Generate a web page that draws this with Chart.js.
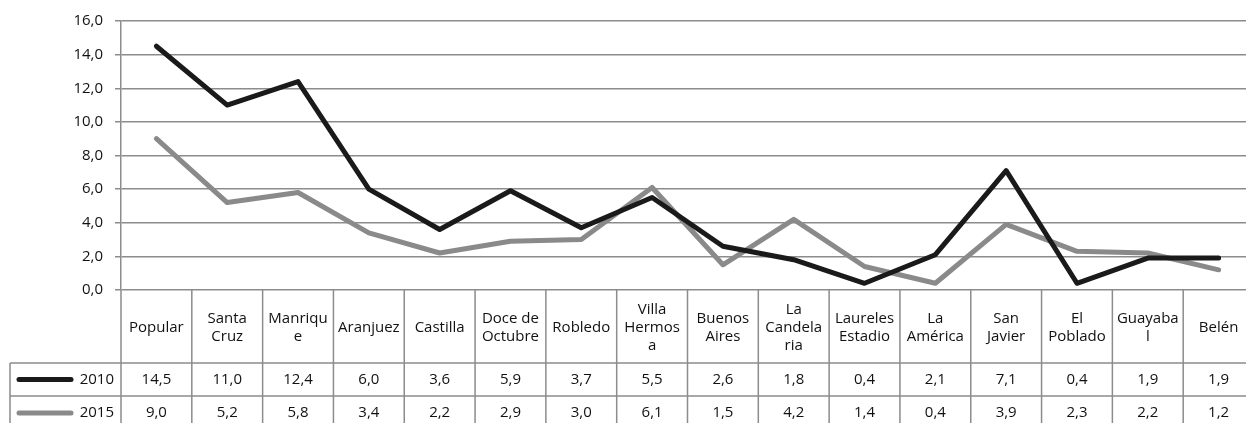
<!DOCTYPE html>
<html>
<head>
<meta charset="utf-8">
<script src="https://cdn.jsdelivr.net/npm/chart.js@4.4.1/dist/chart.umd.min.js"></script>
<style>
  html, body { margin: 0; padding: 0; background: #fff; }
  #wrap { width: 1246px; height: 423px; overflow: hidden; position: relative; }
  canvas { display: block; }
</style>
</head>
<body>
<div id="wrap"><canvas id="chart" width="1262" height="423"></canvas></div>
<script>
// Comunas (categories) and the wrapped header text as shown in the table
const comunas = ["Popular", "Santa Cruz", "Manrique", "Aranjuez", "Castilla", "Doce de Octubre",
    "Robledo", "Villa Hermosa", "Buenos Aires", "La Candelaria", "Laureles Estadio",
    "La América", "San Javier", "El Poblado", "Guayabal", "Belén"];
const headerLines = [["Popular"], ["Santa", "Cruz"], ["Manriqu", "e"], ["Aranjuez"], ["Castilla"],
    ["Doce de", "Octubre"], ["Robledo"], ["Villa", "Hermos", "a"], ["Buenos", "Aires"],
    ["La", "Candela", "ria"], ["Laureles", "Estadio"], ["La", "América"], ["San", "Javier"],
    ["El", "Poblado"], ["Guayaba", "l"], ["Belén"]];

const values2010 = [14.5, 11.0, 12.4, 6.0, 3.6, 5.9, 3.7, 5.5, 2.6, 1.8, 0.4, 2.1, 7.1, 0.4, 1.9, 1.9];
const values2015 = [9.0, 5.2, 5.8, 3.4, 2.2, 2.9, 3.0, 6.1, 1.5, 4.2, 1.4, 0.4, 3.9, 2.3, 2.2, 1.2];

const yTicks = [0, 2, 4, 6, 8, 10, 12, 14, 16];

const FONT = "'Open Sans', 'Noto Sans', sans-serif";
const FONT_SIZE = 15;
const TEXT = "#111";
const GRID = "#8c8c8c";
const fmt = v => v.toFixed(1).replace(".", ",");

// draws the data table under the plot, columns taken from the x scale
const dataTable = {
    id: "dataTable",
    afterDraw(chart) {
        const ctx = chart.ctx;
        const x = chart.scales.x;
        const area = chart.chartArea;
        const colW = (area.right - area.left) / comunas.length;
        const headerBottom = area.bottom + 73;
        const row1Bottom = headerBottom + 33;
        const bottom = chart.height;
        const tableLeft = 10;

        ctx.save();
        ctx.strokeStyle = GRID;
        ctx.lineWidth = 1.5;

        // vertical column separators
        ctx.beginPath();
        for (let i = 0; i <= comunas.length; i++) {
            const xx = area.left + i * colW;
            ctx.moveTo(xx, area.bottom);
            ctx.lineTo(xx, bottom);
        }
        // row separators
        ctx.moveTo(tableLeft, headerBottom);
        ctx.lineTo(area.right, headerBottom);
        ctx.moveTo(tableLeft, row1Bottom);
        ctx.lineTo(area.right, row1Bottom);
        ctx.moveTo(tableLeft, headerBottom);
        ctx.lineTo(tableLeft, bottom);
        ctx.stroke();

        ctx.fillStyle = TEXT;
        ctx.font = FONT_SIZE + "px " + FONT;
        ctx.textAlign = "center";
        ctx.textBaseline = "middle";

        const headerMid = (area.bottom + headerBottom) / 2 + 1;
        const lineH = 18;
        headerLines.forEach((lines, i) => {
            const cx = x.getPixelForValue(i);
            const top = headerMid - (lines.length - 1) * lineH / 2;
            lines.forEach((t, k) => ctx.fillText(t, cx, top + k * lineH));
        });

        const rows = [
            { label: "2010", data: values2010, color: chart.data.datasets[0].borderColor, mid: (headerBottom + row1Bottom) / 2 },
            { label: "2015", data: values2015, color: chart.data.datasets[1].borderColor, mid: row1Bottom + 17 }
        ];
        rows.forEach(r => {
            r.data.forEach((v, i) => ctx.fillText(fmt(v), x.getPixelForValue(i), r.mid));
            // legend key
            ctx.save();
            ctx.strokeStyle = r.color;
            ctx.lineWidth = 5;
            ctx.lineCap = "round";
            ctx.beginPath();
            ctx.moveTo(19, r.mid);
            ctx.lineTo(71, r.mid);
            ctx.stroke();
            ctx.restore();
            ctx.textAlign = "right";
            ctx.fillText(r.label, 114, r.mid);
            ctx.textAlign = "center";
        });
        ctx.restore();
    }
};

const ctx = document.getElementById("chart").getContext("2d");
const chart = new Chart(ctx, {
    type: "line",
    data: {
        labels: comunas,
        datasets: [
            { label: "2010", data: values2010, borderColor: "#1a1a1a", borderWidth: 5 },
            { label: "2015", data: values2015, borderColor: "#8a8a8a", borderWidth: 5 }
        ]
    },
    options: {
        responsive: false,
        animation: false,
        events: [],
        layout: { padding: { left: 0, top: 21, right: 8, bottom: 133 } },
        elements: {
            point: { radius: 0 },
            line: { tension: 0, borderCapStyle: "round", borderJoinStyle: "round" }
        },
        plugins: { legend: { display: false }, tooltip: { enabled: false } },
        scales: {
            x: { display: false, offset: true },
            y: {
                min: 0,
                max: 16,
                afterBuildTicks: s => { s.ticks = yTicks.map(v => ({ value: v })); },
                afterFit: s => { s.width = 121; },
                border: { color: GRID, width: 1.5 },
                grid: { color: GRID, lineWidth: 1.5, tickLength: 6, drawTicks: true },
                ticks: {
                    padding: 12,
                    color: TEXT,
                    font: { family: FONT, size: FONT_SIZE },
                    callback: v => fmt(v)
                }
            }
        }
    },
    plugins: [dataTable]
});
</script>
</body>
</html>
